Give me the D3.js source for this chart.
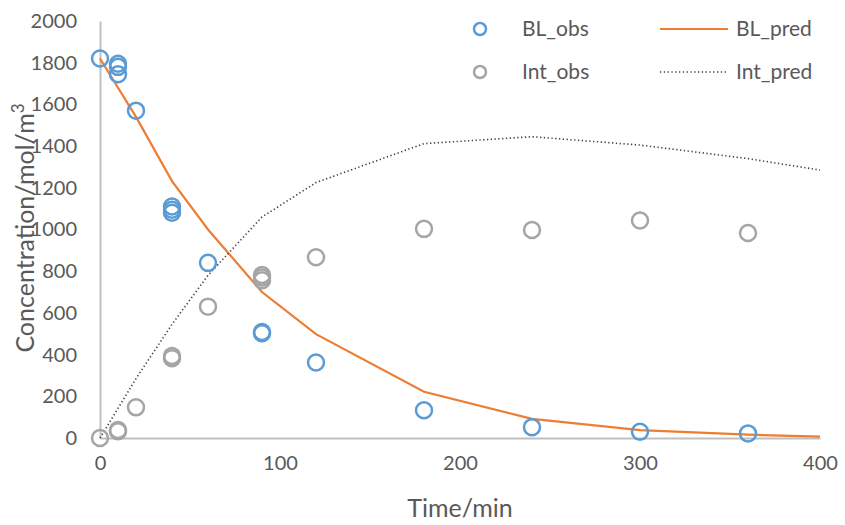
<!DOCTYPE html>
<html>
<head>
<meta charset="utf-8">
<script src="https://cdn.jsdelivr.net/npm/d3@7"></script>
<style>
  html, body { margin: 0; padding: 0; background: #fff; }
  svg { display: block; }
  text { font-family: Lato, "Open Sans", sans-serif; fill: #595959; }
</style>
</head>
<body>
<svg id="chart" width="845" height="525"></svg>
<script>
// ---- data ----
const blObsTime = [0, 10, 10, 10, 20, 40, 40, 40, 60, 90, 90, 120, 180, 240, 300, 360];
const blObsConc = [1820, 1795, 1780, 1745, 1570, 1110, 1095, 1080, 840, 508, 502, 362, 133, 52, 30, 22];

const intObsTime = [0, 10, 10, 20, 40, 40, 60, 90, 90, 90, 120, 180, 240, 300, 360];
const intObsConc = [0, 38, 32, 147, 393, 383, 630, 782, 770, 757, 867, 1003, 998, 1043, 983];

const predTime = [0, 20, 40, 60, 90, 120, 180, 240, 300, 360, 400];
const blPredConc = [1820, 1540, 1232, 1000, 700, 498, 222, 92, 38, 16, 7];
const intPredConc = [0, 285, 545, 780, 1060, 1225, 1412, 1445, 1405, 1340, 1285];

const xTicks = [0, 100, 200, 300, 400];
const yTicks = [0, 200, 400, 600, 800, 1000, 1200, 1400, 1600, 1800, 2000];

const legendItems = [
  { label: "BL_obs", kind: "circle", color: "#5b9bd5" },
  { label: "Int_obs", kind: "circle", color: "#a5a5a5" },
  { label: "BL_pred", kind: "line", color: "#ed7d31" },
  { label: "Int_pred", kind: "dot", color: "#404040" }
];

// ---- layout ----
const svg = d3.select("#chart");
const x = d3.scaleLinear().domain([0, 400]).range([100, 820]);
const y = d3.scaleLinear().domain([0, 2000]).range([438, 21]);
const axisColor = "#bfbfbf";
const fontSize = 20;
const titleSize = 25;

// axes
const xAxis = d3.axisBottom(x).tickValues(xTicks).tickSize(0).tickPadding(18).tickFormat(d3.format("d"));
const gx = svg.append("g").attr("transform", `translate(0,${y(0)})`).call(xAxis);
gx.select(".domain").attr("stroke", axisColor).attr("stroke-width", 2);
gx.selectAll("text").attr("font-size", fontSize).attr("font-family", "Lato, sans-serif").attr("fill", "#595959");

const yAxis = d3.axisLeft(y).tickValues(yTicks).tickSize(0).tickPadding(23).tickFormat(d3.format("d"));
const gy = svg.append("g").attr("transform", `translate(${x(0)},0)`).call(yAxis);
gy.select(".domain").attr("stroke", axisColor).attr("stroke-width", 2);
gy.selectAll("text").attr("font-size", fontSize).attr("font-family", "Lato, sans-serif").attr("fill", "#595959");

// axis titles
svg.append("text").attr("x", 460).attr("y", 517).attr("text-anchor", "middle")
  .attr("font-size", titleSize).text("Time/min");

const yTitle = svg.append("text")
  .attr("transform", "translate(34,228) rotate(-90)")
  .attr("text-anchor", "middle").attr("font-size", titleSize);
yTitle.append("tspan").text("Concentration/mol/m");
yTitle.append("tspan").attr("baseline-shift", "super").attr("font-size", titleSize - 8).text("3");

// prediction lines
const line = d3.line().x(d => x(d[0])).y(d => y(d[1]));
svg.append("path").datum(predTime.map((t, i) => [t, blPredConc[i]]))
  .attr("d", line).attr("fill", "none").attr("stroke", "#ed7d31").attr("stroke-width", 2.2);
svg.append("path").datum(predTime.map((t, i) => [t, intPredConc[i]]))
  .attr("d", line).attr("fill", "none").attr("stroke", "#404040").attr("stroke-width", 1.6)
  .attr("stroke-dasharray", "1.3,2.5");

// observed points
function drawPoints(times, concs, color) {
  svg.append("g").selectAll("circle").data(times.map((t, i) => [t, concs[i]])).join("circle")
    .attr("cx", d => x(d[0])).attr("cy", d => y(d[1])).attr("r", 8)
    .attr("fill", "none").attr("stroke", color).attr("stroke-width", 2.5);
}
drawPoints(intObsTime, intObsConc, "#a5a5a5");
drawPoints(blObsTime, blObsConc, "#5b9bd5");

// legend
const legendPos = [
  { lx: 480, ly: 29 }, { lx: 480, ly: 72 }, { lx: 660, ly: 29 }, { lx: 660, ly: 72 }
];
legendItems.forEach((item, i) => {
  const p = legendPos[i];
  const g = svg.append("g");
  if (item.kind === "circle") {
    g.append("circle").attr("cx", p.lx).attr("cy", p.ly).attr("r", 6)
      .attr("fill", "none").attr("stroke", item.color).attr("stroke-width", 2.5);
    g.append("text").attr("x", p.lx + 42).attr("y", p.ly).attr("dy", "0.35em")
      .attr("font-size", fontSize + 1).text(item.label);
  } else {
    g.append("line").attr("x1", p.lx).attr("x2", p.lx + 68).attr("y1", p.ly).attr("y2", p.ly)
      .attr("stroke", item.color)
      .attr("stroke-width", item.kind === "line" ? 2.2 : 1.6)
      .attr("stroke-dasharray", item.kind === "dot" ? "1.3,2.5" : null);
    g.append("text").attr("x", p.lx + 76).attr("y", p.ly).attr("dy", "0.35em")
      .attr("font-size", fontSize + 1).text(item.label);
  }
});
</script>
</body>
</html>
